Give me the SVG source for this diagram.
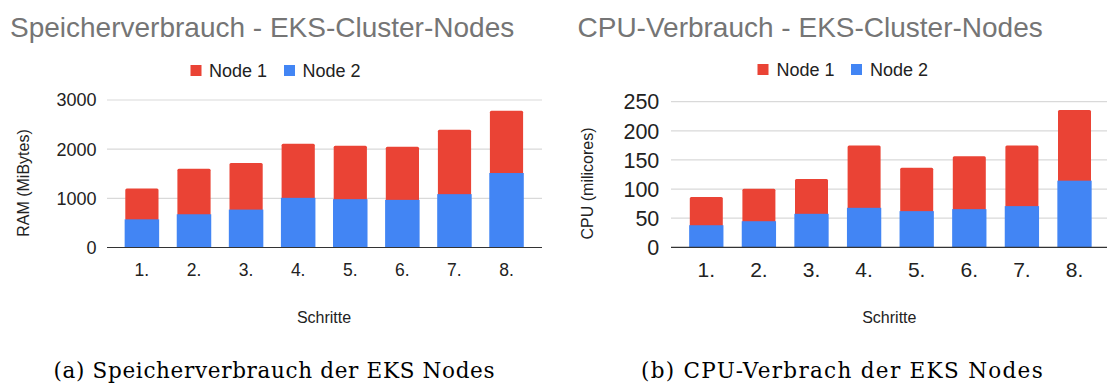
<svg xmlns="http://www.w3.org/2000/svg" width="1107" height="388" viewBox="0 0 1107 388">
  <style>
    .title { font-family: "Liberation Sans", Arial, sans-serif; font-size: 28px; fill: #757575; }
    .legend { font-family: "Liberation Sans", Arial, sans-serif; font-size: 18px; fill: #222222; }
    .tickL { font-family: "Liberation Sans", Arial, sans-serif; font-size: 18px; fill: #222222; text-anchor: end; }
    .tickR { font-family: "Liberation Sans", Arial, sans-serif; font-size: 21.5px; fill: #222222; text-anchor: end; }
    .catL { font-family: "Liberation Sans", Arial, sans-serif; font-size: 17.5px; fill: #222222; text-anchor: middle; }
    .catR { font-family: "Liberation Sans", Arial, sans-serif; font-size: 21px; fill: #222222; text-anchor: middle; }
    .axisTitle { font-family: "Liberation Sans", Arial, sans-serif; font-size: 16px; fill: #222222; text-anchor: middle; }
    .caption { font-family: "DejaVu Serif", "Liberation Serif", serif; font-size: 21.5px; fill: #000000; }
    .grid { stroke: #d9d9d9; stroke-width: 1.2; }
    .axis { stroke: #333333; stroke-width: 1.2; }
    .n1 { fill: #EA4335; }
    .n2 { fill: #4285F4; }
  </style>

  <rect width="1107" height="388" fill="#ffffff"/>

  <!-- Memory chart -->
  <g id="chart-memory">
    <text class="title" x="10" y="37">Speicherverbrauch - EKS-Cluster-Nodes</text>
    <g id="legend-memory">
      <rect class="n1" x="190.5" y="65" width="11" height="11"/>
      <text class="legend" x="209" y="76.5">Node 1</text>
      <rect class="n2" x="284" y="65" width="11" height="11"/>
      <text class="legend" x="302.5" y="76.5">Node 2</text>
    </g>
    <g id="grid-memory">
      <line class="grid" x1="107" y1="100" x2="542" y2="100"/>
      <line class="grid" x1="107" y1="149.2" x2="542" y2="149.2"/>
      <line class="grid" x1="107" y1="198.3" x2="542" y2="198.3"/>
      <text class="tickL" x="96.5" y="106.4">3000</text>
      <text class="tickL" x="96.5" y="155.6">2000</text>
      <text class="tickL" x="96.5" y="204.7">1000</text>
      <text class="tickL" x="96.5" y="253.9">0</text>
    </g>
    <text class="axisTitle" transform="translate(28.5 183) rotate(-90)">RAM (MiBytes)</text>
    <g id="bars-memory">
      <rect class="n1" x="125.3" y="188.45" width="33.2" height="32" rx="1.5"/>
      <rect class="n2" x="124.65" y="219.33" width="34.5" height="28.17"/>
      <rect class="n1" x="177.4" y="168.64" width="33.2" height="47" rx="1.5"/>
      <rect class="n2" x="176.74" y="214.26" width="34.5" height="33.24"/>
      <rect class="n1" x="229.5" y="162.93" width="33.2" height="48" rx="1.5"/>
      <rect class="n2" x="228.83" y="209.59" width="34.5" height="37.91"/>
      <rect class="n1" x="281.6" y="143.81" width="33.2" height="55" rx="1.5"/>
      <rect class="n2" x="280.92" y="197.84" width="34.5" height="49.66"/>
      <rect class="n1" x="333.7" y="145.82" width="33.2" height="55" rx="1.5"/>
      <rect class="n2" x="333.01" y="199.17" width="34.5" height="48.33"/>
      <rect class="n1" x="385.8" y="146.81" width="33.2" height="55" rx="1.5"/>
      <rect class="n2" x="385.1" y="199.86" width="34.5" height="47.64"/>
      <rect class="n1" x="437.9" y="129.7" width="33.2" height="66" rx="1.5"/>
      <rect class="n2" x="437.19" y="194.15" width="34.5" height="53.35"/>
      <rect class="n1" x="489.9" y="110.72" width="33.2" height="64" rx="1.5"/>
      <rect class="n2" x="489.28" y="173.01" width="34.5" height="74.49"/>
    </g>
    <line class="axis" x1="107" y1="247.5" x2="542" y2="247.5"/>
    <g id="categories-memory">
      <text class="catL" x="141.9" y="276">1.</text>
      <text class="catL" x="194" y="276">2.</text>
      <text class="catL" x="246.1" y="276">3.</text>
      <text class="catL" x="298.2" y="276">4.</text>
      <text class="catL" x="350.3" y="276">5.</text>
      <text class="catL" x="402.4" y="276">6.</text>
      <text class="catL" x="454.4" y="276">7.</text>
      <text class="catL" x="506.5" y="276">8.</text>
    </g>
    <text class="axisTitle" x="324" y="323">Schritte</text>
    <text class="caption" x="53.5" y="378" textLength="441">(a) Speicherverbrauch der EKS Nodes</text>
  </g>

  <!-- CPU chart -->
  <g id="chart-cpu">
    <text class="title" x="577.5" y="37">CPU-Verbrauch - EKS-Cluster-Nodes</text>
    <g id="legend-cpu">
      <rect class="n1" x="757.5" y="64" width="11" height="11"/>
      <text class="legend" x="776.5" y="75.5">Node 1</text>
      <rect class="n2" x="851" y="64" width="11" height="11"/>
      <text class="legend" x="870" y="75.5">Node 2</text>
    </g>
    <g id="grid-cpu">
      <line class="grid" x1="671" y1="101.7" x2="1107" y2="101.7"/>
      <line class="grid" x1="671" y1="130.8" x2="1107" y2="130.8"/>
      <line class="grid" x1="671" y1="159.9" x2="1107" y2="159.9"/>
      <line class="grid" x1="671" y1="189.1" x2="1107" y2="189.1"/>
      <line class="grid" x1="671" y1="218.2" x2="1107" y2="218.2"/>
      <text class="tickR" x="659.3" y="109.4">250</text>
      <text class="tickR" x="659.3" y="138.5">200</text>
      <text class="tickR" x="659.3" y="167.6">150</text>
      <text class="tickR" x="659.3" y="196.8">100</text>
      <text class="tickR" x="659.3" y="225.9">50</text>
      <text class="tickR" x="659.3" y="255">0</text>
    </g>
    <text class="axisTitle" transform="translate(593 183.5) rotate(-90)">CPU (milicores)</text>
    <g id="bars-cpu">
      <rect class="n1" x="689.8" y="197.1" width="33" height="30" rx="1.5"/>
      <rect class="n2" x="689.15" y="225.23" width="34.3" height="22.07"/>
      <rect class="n1" x="742.4" y="188.71" width="33" height="35" rx="1.5"/>
      <rect class="n2" x="741.75" y="221.21" width="34.3" height="26.09"/>
      <rect class="n1" x="795" y="179.04" width="33" height="37" rx="1.5"/>
      <rect class="n2" x="794.35" y="213.81" width="34.3" height="33.49"/>
      <rect class="n1" x="847.6" y="145.55" width="33" height="65" rx="1.5"/>
      <rect class="n2" x="846.95" y="207.81" width="34.3" height="39.49"/>
      <rect class="n1" x="900.2" y="167.63" width="33" height="46" rx="1.5"/>
      <rect class="n2" x="899.55" y="211.13" width="34.3" height="36.17"/>
      <rect class="n1" x="952.8" y="156.27" width="33" height="55" rx="1.5"/>
      <rect class="n2" x="952.15" y="209.15" width="34.3" height="38.15"/>
      <rect class="n1" x="1005.4" y="145.55" width="33" height="63" rx="1.5"/>
      <rect class="n2" x="1004.75" y="206.12" width="34.3" height="41.18"/>
      <rect class="n1" x="1058" y="110.09" width="33" height="73" rx="1.5"/>
      <rect class="n2" x="1057.35" y="180.67" width="34.3" height="66.63"/>
    </g>
    <line class="axis" x1="671" y1="247.3" x2="1107" y2="247.3"/>
    <g id="categories-cpu">
      <text class="catR" x="706.3" y="277">1.</text>
      <text class="catR" x="758.9" y="277">2.</text>
      <text class="catR" x="811.5" y="277">3.</text>
      <text class="catR" x="864.1" y="277">4.</text>
      <text class="catR" x="916.7" y="277">5.</text>
      <text class="catR" x="969.3" y="277">6.</text>
      <text class="catR" x="1021.9" y="277">7.</text>
      <text class="catR" x="1074.5" y="277">8.</text>
    </g>
    <text class="axisTitle" x="889.3" y="323">Schritte</text>
    <text class="caption" x="641" y="378" textLength="401.7">(b) CPU-Verbrach der EKS Nodes</text>
  </g>
</svg>
